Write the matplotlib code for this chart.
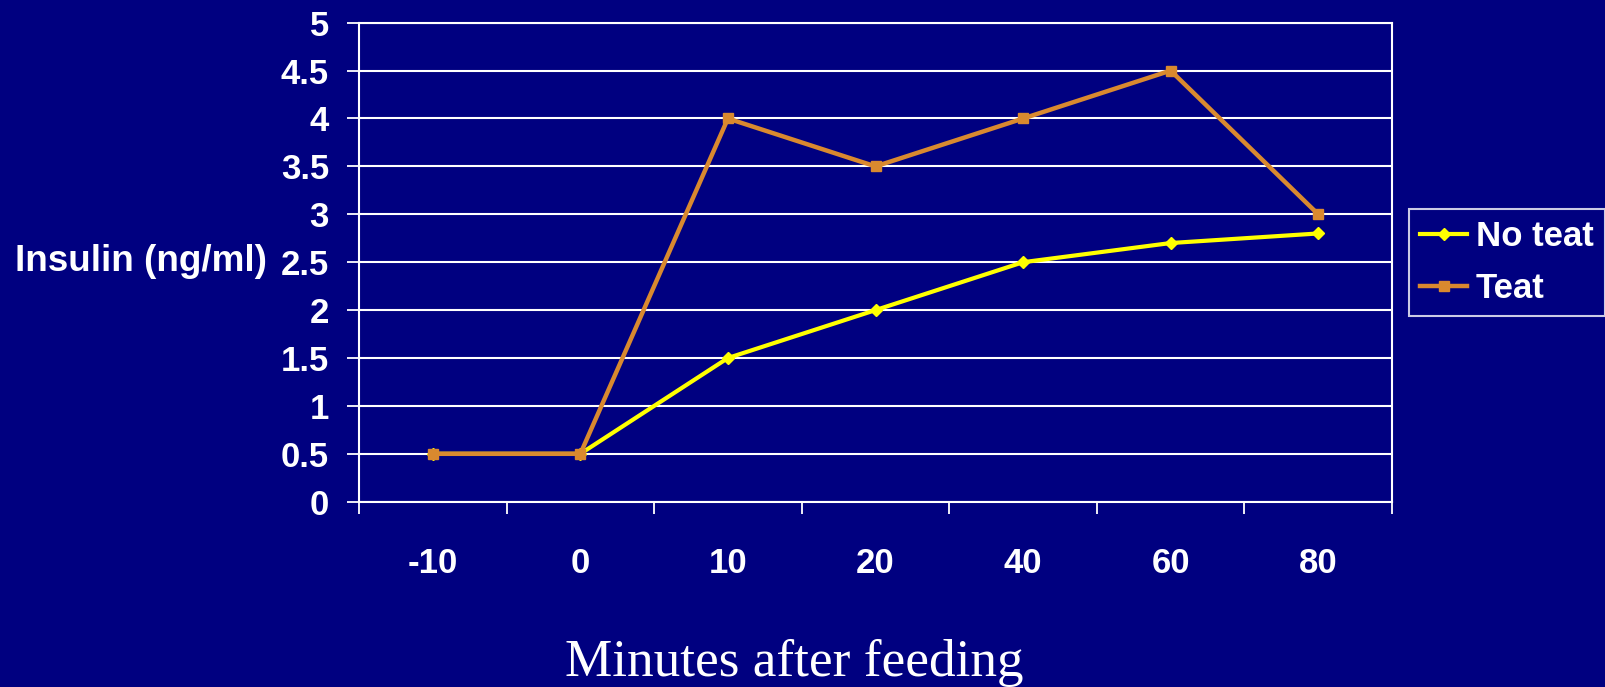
import matplotlib
matplotlib.use("Agg")
import matplotlib.pyplot as plt
from matplotlib.ticker import FixedLocator, NullFormatter, FixedFormatter

categories = ["-10", "0", "10", "20", "40", "60", "80"]
no_teat = [0.5, 0.5, 1.5, 2.0, 2.5, 2.7, 2.8]
teat = [0.5, 0.5, 4.0, 3.5, 4.0, 4.5, 3.0]
yticks = [0, 0.5, 1, 1.5, 2, 2.5, 3, 3.5, 4, 4.5, 5]
ytick_labels = ["0", "0.5", "1", "1.5", "2", "2.5", "3", "3.5", "4", "4.5", "5"]

BG = "#000080"
YEL = "#FFFF00"
ORA = "#D9892F"
W, H = 1605, 687

fig = plt.figure(figsize=(W / 100, H / 100), dpi=100, facecolor=BG)
ax = fig.add_axes([359 / W, 1 - 501.7 / H, (1392 - 359) / W, (501.7 - 22.7) / H])
ax.set_facecolor(BG)

x = list(range(len(categories)))
ax.plot(x, no_teat, color=YEL, lw=3.0, marker="D", ms=6.5, mec=YEL, mfc=YEL, label="No teat", zorder=3)
ax.plot(x, teat, color=ORA, lw=3.2, marker="s", ms=7, mec=ORA, mfc=ORA, label="Teat", zorder=4)

ax.set_xlim(-0.5, len(categories) - 0.5)
ax.set_ylim(0, 5)
ax.yaxis.set_major_locator(FixedLocator(yticks))
ax.yaxis.set_major_formatter(FixedFormatter(ytick_labels))
ax.grid(axis="y", color="white", lw=1.5)
ax.set_axisbelow(True)

ax.xaxis.set_major_locator(FixedLocator([i - 0.5 for i in range(len(categories) + 1)]))
ax.xaxis.set_major_formatter(NullFormatter())
ax.xaxis.set_minor_locator(FixedLocator(x))
ax.xaxis.set_minor_formatter(FixedFormatter(categories))

font = dict(family="Liberation Sans", weight="bold", size=26.6)
ax.tick_params(axis="y", which="major", direction="out", length=8.6, width=1.3,
               color="white", labelcolor="white", pad=13, labelsize=25)
ax.tick_params(axis="x", which="major", direction="out", length=8.6, width=1.3, color="white")
ax.tick_params(axis="x", which="minor", length=0, labelcolor="white", pad=32.5, labelsize=25)
for lab in ax.get_yticklabels() + ax.get_xticklabels(minor=True):
    lab.set_fontfamily("Liberation Sans")
    lab.set_fontweight("bold")

for sp in ax.spines.values():
    sp.set_color("white")
    sp.set_linewidth(1.5)

fig.text(267 / W, 1 - 262 / H, "Insulin (ng/ml)", ha="right", va="center", color="white", **font)
fig.text(794.5 / W, 1 - 676 / H, "Minutes after feeding", ha="center", va="baseline",
         color="white", family="Liberation Serif", size=38.3)

leg = ax.legend(loc="upper left", bbox_to_anchor=(1409 / W, 1 - 209 / H), bbox_transform=fig.transFigure,
                borderaxespad=0, frameon=True, fancybox=False, facecolor=BG, edgecolor="white",
                prop=dict(family="Liberation Sans", weight="bold", size=25),
                handlelength=1.35, handletextpad=0.25, borderpad=0.33, labelspacing=0.53)
leg.get_frame().set_linewidth(1.5)
for t in leg.get_texts():
    t.set_color("white")

fig.savefig("out.png", dpi=100, facecolor=BG)
